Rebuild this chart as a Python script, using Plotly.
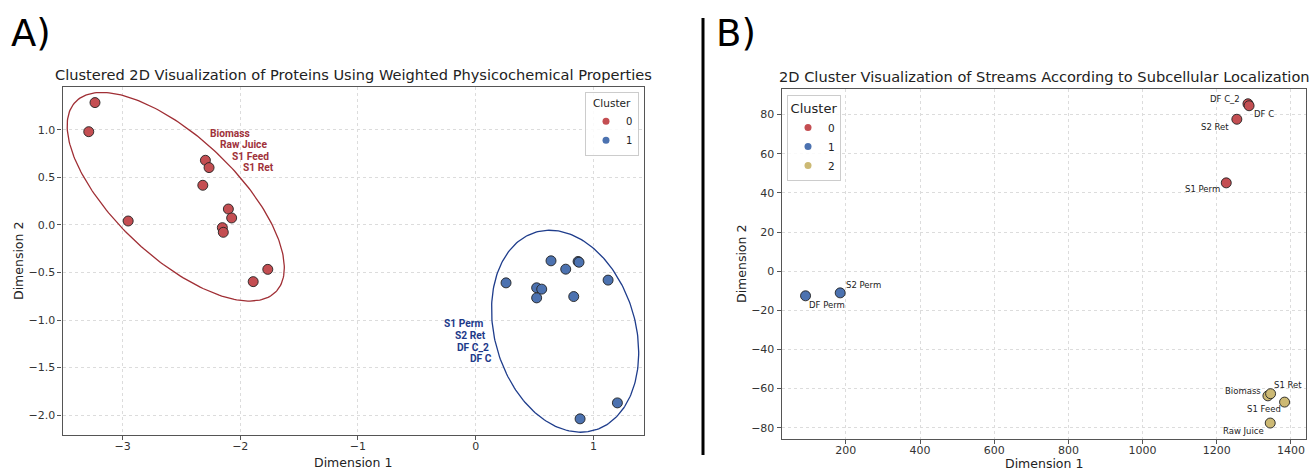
import numpy as np
import plotly.graph_objects as go

# ---------------- Data: panel A ----------------
A_c0_x = [-3.234, -3.287, -2.952, -2.296, -2.265, -2.318, -2.101, -2.073, -2.152, -2.144, -1.766, -1.890]
A_c0_y = [1.288, 0.982, 0.042, 0.681, 0.604, 0.418, 0.168, 0.074, -0.028, -0.077, -0.467, -0.596]
A_c1_x = [0.640, 0.870, 0.878, 0.765, 1.125, 0.258, 0.518, 0.561, 0.518, 0.833, 1.204, 0.887]
A_c1_y = [-0.377, -0.384, -0.392, -0.465, -0.580, -0.609, -0.661, -0.675, -0.767, -0.753, -1.872, -2.040]

A_c0_labels = ["Biomass", "Raw Juice", "S1 Feed", "S1 Ret"]
A_c0_label_x = [-2.278, -2.193, -2.090, -1.990]
A_c0_label_y = [0.962, 0.850, 0.726, 0.606]
A_c1_labels = ["S1 Perm", "S2 Ret", "DF C_2", "DF C"]
A_c1_label_x = [0.082, 0.108, 0.133, 0.159]
A_c1_label_y = [-1.032, -1.158, -1.284, -1.400]

# ellipses: centre x, centre y, semi-major, semi-minor, angle (deg)
A_c0_ellipse = (-2.548, 0.297, 1.319, 0.562, -52.2)
A_c1_ellipse = (0.760, -1.118, 1.075, 0.604, -79.6)

A_xticks = [-3, -2, -1, 0, 1]
A_yticks = [-2.0, -1.5, -1.0, -0.5, 0.0, 0.5, 1.0]

# ---------------- Data: panel B ----------------
B_names = ["DF C_2", "DF C", "S2 Ret", "S1 Perm", "S2 Perm", "DF Perm",
           "Biomass", "S1 Ret", "S1 Feed", "Raw Juice"]
B_cluster = [0, 0, 0, 0, 1, 1, 2, 2, 2, 2]
B_x = [1284.0, 1287.0, 1254.0, 1225.5, 184.7, 91.3, 1337.8, 1345.0, 1382.7, 1344.0]
B_y = [85.5, 84.5, 77.6, 45.1, -11.1, -12.6, -63.7, -62.6, -66.9, -77.6]
# label placement (anchor, pixel shifts)
B_lab_anchor = ["right", "left", "right", "right", "left", "left", "right", "left", "right", "right"]
B_lab_dx = [-6, 3, -6, -4, 4, 1, -5, 1, -2, -4]
B_lab_dy = [5, -8, -7.5, -6, 8, -9.5, 4.5, 9, -7, -7.5]

B_xticks = [200, 400, 600, 800, 1000, 1200, 1400]
B_yticks = [-80, -60, -40, -20, 0, 20, 40, 60, 80]

COLORS = ["#C44E52", "#4C72B0", "#CCB974"]
ELL_COLORS = ["#A02F35", "#1F3D8C"]
FONT = "DejaVu Sans"

W, H = 1312, 471


def px(x):
    return x / W


def py(y):
    return 1 - y / H


def ellipse_xy(params, n=240):
    cx, cy, a, b, ang = params
    t = np.linspace(0, 2 * np.pi, n)
    th = np.deg2rad(ang)
    ex = cx + a * np.cos(t) * np.cos(th) - b * np.sin(t) * np.sin(th)
    ey = cy + a * np.cos(t) * np.sin(th) + b * np.sin(t) * np.cos(th)
    return ex, ey


fig = go.Figure()

# ---- Panel A ----
for params, col in [(A_c0_ellipse, ELL_COLORS[0]), (A_c1_ellipse, ELL_COLORS[1])]:
    ex, ey = ellipse_xy(params)
    fig.add_trace(go.Scatter(x=ex, y=ey, mode="lines", line=dict(color=col, width=1.3),
                             showlegend=False, hoverinfo="skip", xaxis="x", yaxis="y"))

for xs, ys, col in [(A_c0_x, A_c0_y, COLORS[0]), (A_c1_x, A_c1_y, COLORS[1])]:
    fig.add_trace(go.Scatter(x=xs, y=ys, mode="markers",
                             marker=dict(size=10, color=col, line=dict(color="#222222", width=0.9)),
                             showlegend=False, xaxis="x", yaxis="y"))
for i, col in enumerate(COLORS[:2]):
    fig.add_trace(go.Scatter(x=[None], y=[None], mode="markers", name=str(i),
                             marker=dict(size=7, color=col), legend="legend",
                             xaxis="x", yaxis="y"))

# ---- Panel B ----
for c in range(3):
    xs = [x for x, k in zip(B_x, B_cluster) if k == c]
    ys = [y for y, k in zip(B_y, B_cluster) if k == c]
    fig.add_trace(go.Scatter(x=xs, y=ys, mode="markers",
                             marker=dict(size=10, color=COLORS[c], line=dict(color="#222222", width=0.9)),
                             showlegend=False, xaxis="x2", yaxis="y2"))
for i, col in enumerate(COLORS):
    fig.add_trace(go.Scatter(x=[None], y=[None], mode="markers", name=str(i),
                             marker=dict(size=7, color=col), legend="legend2",
                             xaxis="x2", yaxis="y2"))

annotations = []
for t, x, y in zip(A_c0_labels, A_c0_label_x, A_c0_label_y):
    annotations.append(dict(x=x, y=y, xref="x", yref="y", text=f"<b>{t}</b>", showarrow=False,
                            xanchor="left", yanchor="middle",
                            font=dict(family="Roboto", size=10.2, color="#A0323A")))
for t, x, y in zip(A_c1_labels, A_c1_label_x, A_c1_label_y):
    annotations.append(dict(x=x, y=y, xref="x", yref="y", text=f"<b>{t}</b>", showarrow=False,
                            xanchor="right", yanchor="middle",
                            font=dict(family="Roboto", size=10.2, color="#1D3A8A")))
for t, x, y, an, dx, dy in zip(B_names, B_x, B_y, B_lab_anchor, B_lab_dx, B_lab_dy):
    annotations.append(dict(x=x, y=y, xref="x2", yref="y2", text=t, showarrow=False,
                            xanchor=an, yanchor="middle", xshift=dx, yshift=dy,
                            font=dict(family=FONT, size=8.5, color="#222222")))

# titles, axis titles, panel letters
annotations += [
    dict(x=px(353), y=py(75), xref="paper", yref="paper", showarrow=False,
         text="Clustered 2D Visualization of Proteins Using Weighted Physicochemical Properties",
         font=dict(family=FONT, size=14.6, color="#222222"), xanchor="center", yanchor="middle"),
    dict(x=px(1044), y=py(77), xref="paper", yref="paper", showarrow=False,
         text="2D Cluster Visualization of Streams According to Subcellular Localization",
         font=dict(family=FONT, size=14.6, color="#222222"), xanchor="center", yanchor="middle"),
    dict(x=px(353), y=py(462), xref="paper", yref="paper", showarrow=False, text="Dimension 1",
         font=dict(family=FONT, size=12.5, color="#222222"), xanchor="center", yanchor="middle"),
    dict(x=px(1044), y=py(463.5), xref="paper", yref="paper", showarrow=False, text="Dimension 1",
         font=dict(family=FONT, size=12.5, color="#222222"), xanchor="center", yanchor="middle"),
    dict(x=px(18), y=py(261), xref="paper", yref="paper", showarrow=False, text="Dimension 2",
         textangle=-90, font=dict(family=FONT, size=12.5, color="#222222"),
         xanchor="center", yanchor="middle"),
    dict(x=px(741), y=py(264), xref="paper", yref="paper", showarrow=False, text="Dimension 2",
         textangle=-90, font=dict(family=FONT, size=12.5, color="#222222"),
         xanchor="center", yanchor="middle"),
    dict(x=px(31), y=py(34), xref="paper", yref="paper", showarrow=False, text="A)",
         font=dict(family=FONT, size=37, color="#000000"), xanchor="center", yanchor="middle"),
    dict(x=px(736), y=py(34), xref="paper", yref="paper", showarrow=False, text="B)",
         font=dict(family=FONT, size=37, color="#000000"), xanchor="center", yanchor="middle"),
]

axis_common = dict(showline=True, linecolor="#555555", linewidth=1.3, mirror=True,
                   ticks="outside", ticklen=4, tickwidth=1, tickcolor="#555555",
                   showgrid=True, gridcolor="#dcdcdc", griddash="3px,3px", gridwidth=1,
                   zeroline=False, tickfont=dict(family=FONT, size=11, color="#333333"))

fig.update_layout(
    width=W, height=H, margin=dict(l=0, r=0, t=0, b=0),
    paper_bgcolor="white", plot_bgcolor="white",
    showlegend=True,
    xaxis=dict(domain=[px(62.5), px(644)], range=[-3.51, 1.43], tickvals=A_xticks,
               anchor="y", ticklabelstandoff=-3, **axis_common),
    yaxis=dict(domain=[py(435), py(87.3)], range=[-2.21, 1.449], tickvals=A_yticks,
               tickformat=".1f", anchor="x", **axis_common),
    xaxis2=dict(domain=[px(781.7), px(1306.2)], range=[27, 1441], tickvals=B_xticks,
                anchor="y2", ticklabelstandoff=-3, **axis_common),
    yaxis2=dict(domain=[py(438.7), py(89.3)], range=[-85.6, 92.9], tickvals=B_yticks,
                anchor="x2", **axis_common),
    legend=dict(x=px(639), y=py(92), xanchor="right", yanchor="top",
                bgcolor="rgba(255,255,255,0.85)", bordercolor="#cccccc", borderwidth=1,
                font=dict(family=FONT, size=10, color="#222222"),
                title=dict(text="Cluster", side="top center", font=dict(family=FONT, size=10.5)),
                tracegroupgap=0, itemwidth=30),
    legend2=dict(x=px(787), y=py(95), xanchor="left", yanchor="top",
                 bgcolor="rgba(255,255,255,0.85)", bordercolor="#cccccc", borderwidth=1,
                 font=dict(family=FONT, size=10.5, color="#222222"),
                 title=dict(text="Cluster", side="top center", font=dict(family=FONT, size=13)),
                 tracegroupgap=0, itemwidth=30),
    annotations=annotations,
    shapes=[dict(type="line", xref="paper", yref="paper", x0=px(703), x1=px(703),
                 y0=py(455), y1=py(18), line=dict(color="black", width=3))],
)

fig.write_html("out.html")
